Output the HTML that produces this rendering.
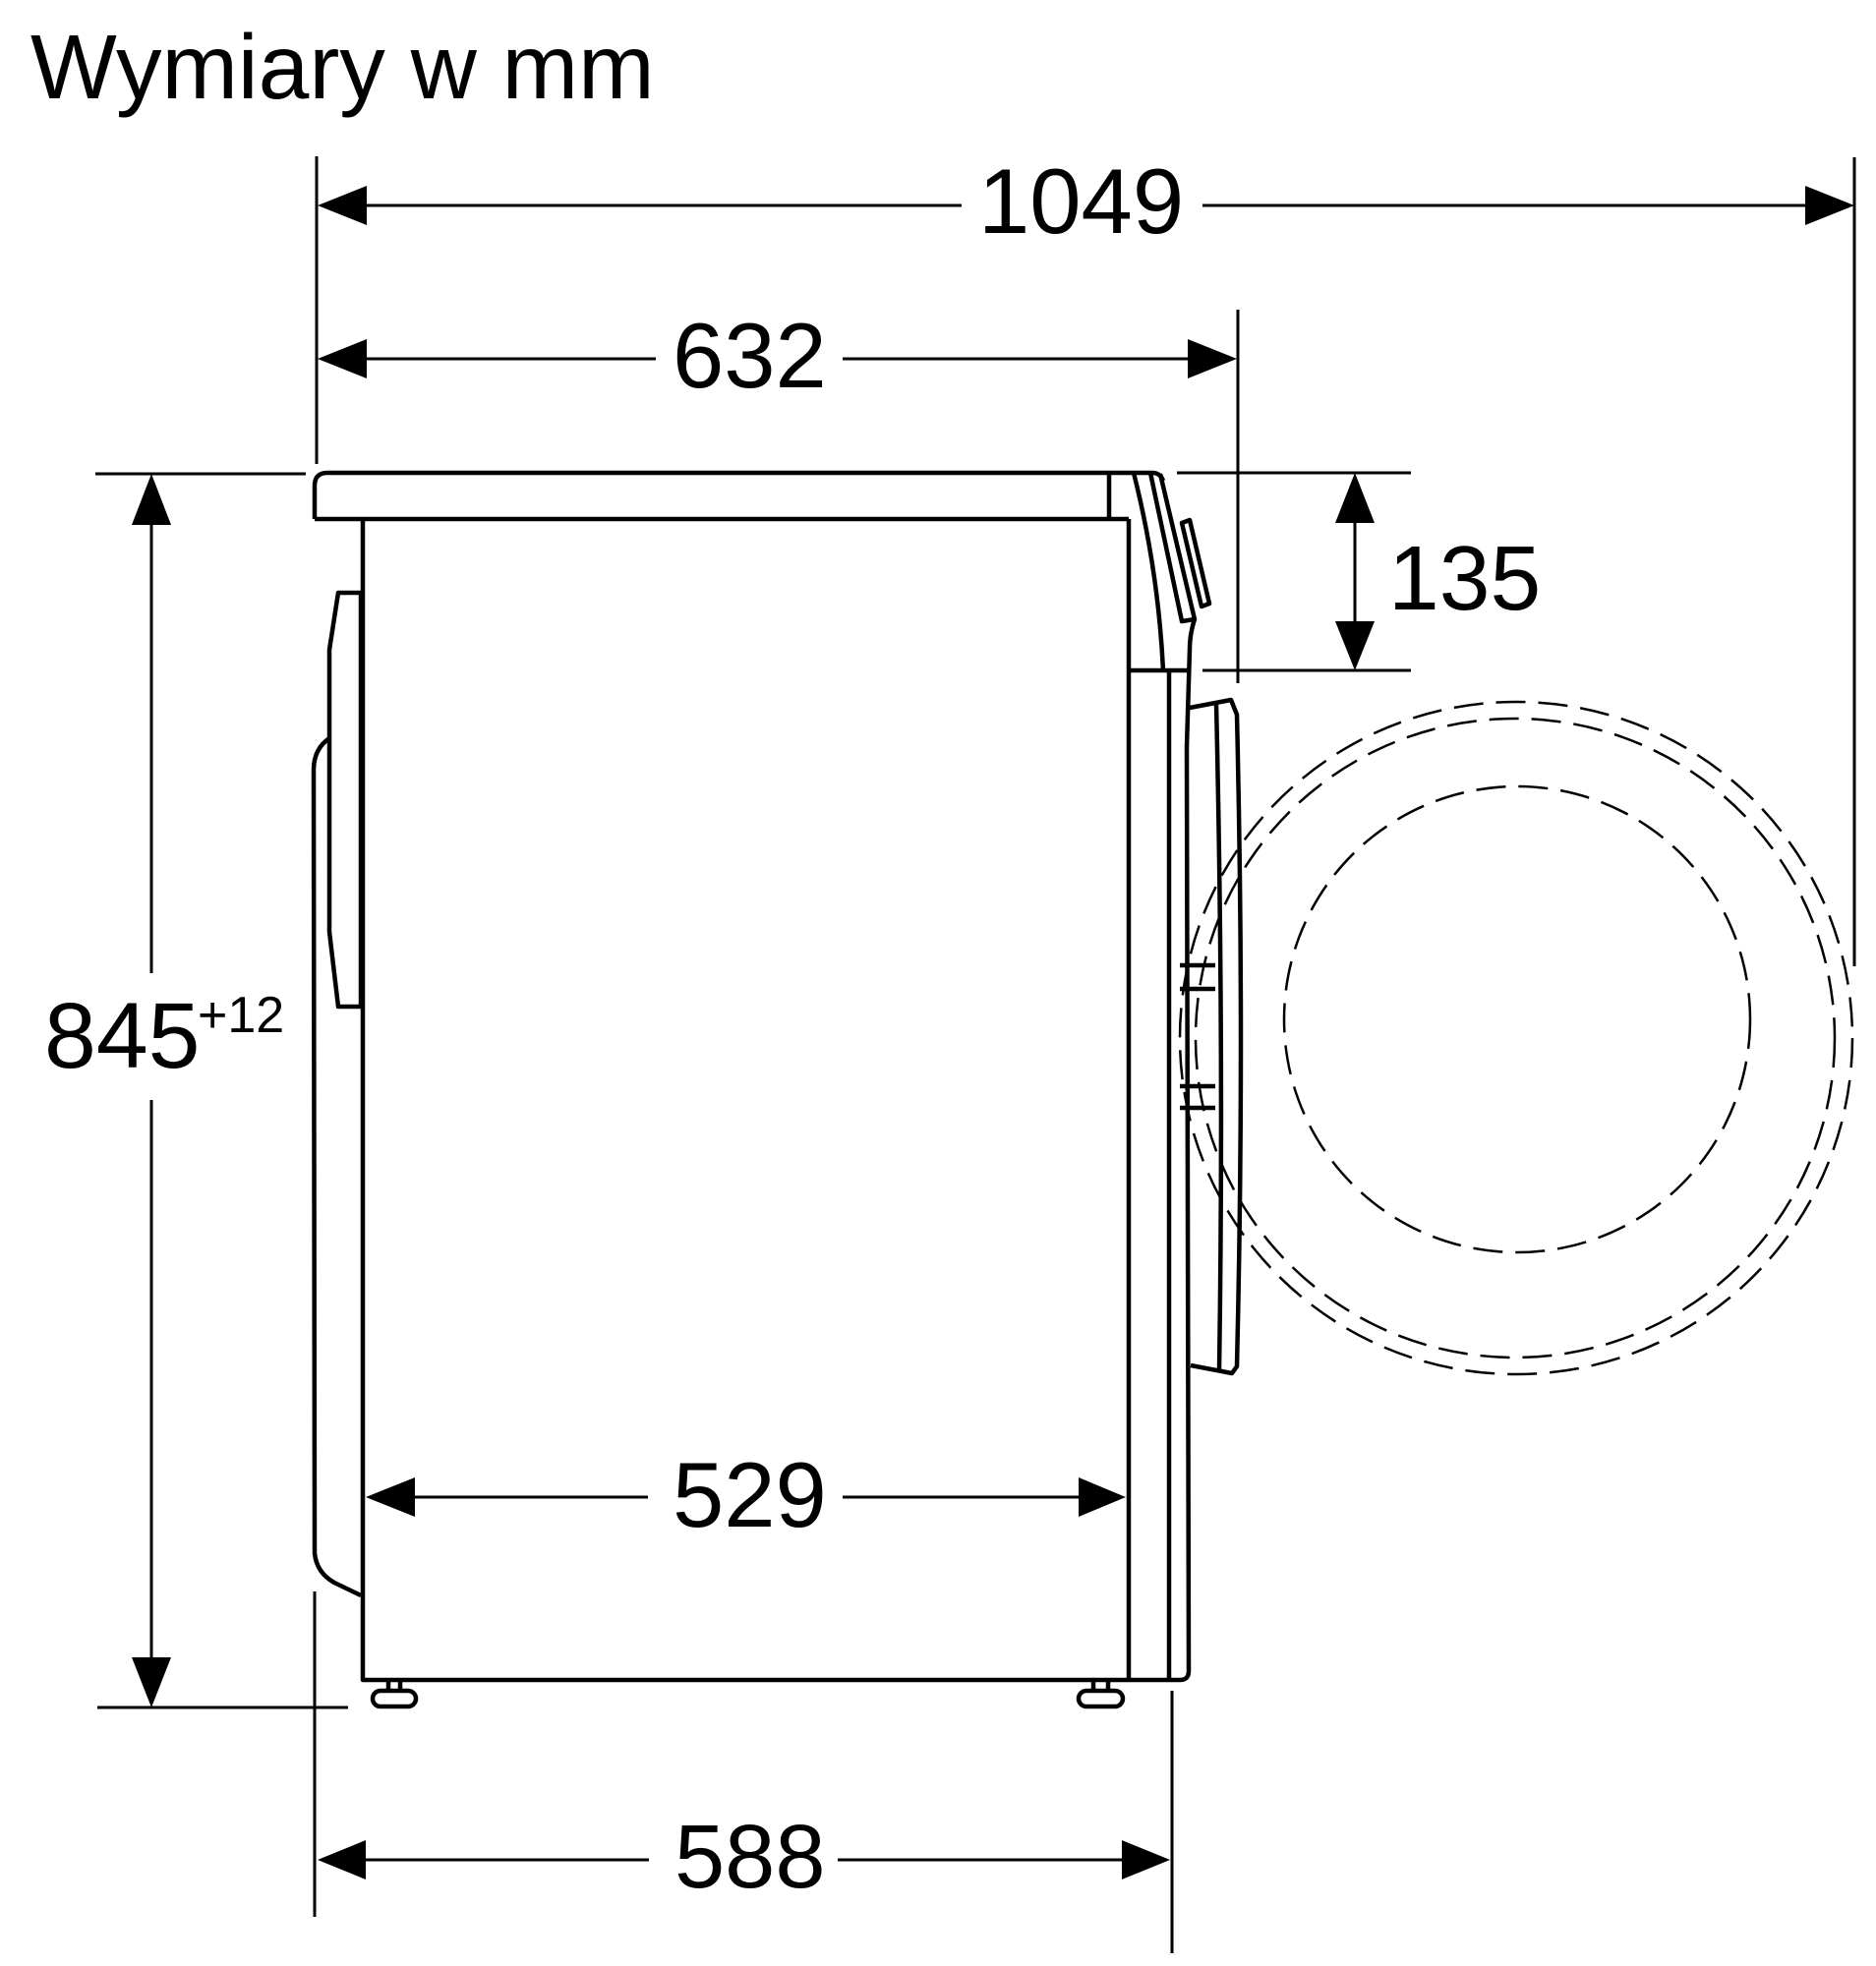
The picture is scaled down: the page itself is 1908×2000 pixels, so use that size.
<!DOCTYPE html>
<html><head><meta charset="utf-8"><style>
html,body{margin:0;padding:0;background:#fff;}
svg{display:block;}
text{font-family:"Liberation Sans",Arial,sans-serif;fill:#000;}
</style></head><body>
<svg width="1908" height="2000" viewBox="0 0 1908 2000" xmlns="http://www.w3.org/2000/svg">
<text x="31" y="100" font-size="93">Wymiary w mm</text>

<g stroke="#000" stroke-width="3" fill="none">
  <line x1="322" y1="159" x2="322" y2="472"/>
  <line x1="1886" y1="160" x2="1886" y2="983"/>
  <line x1="1259" y1="315" x2="1259" y2="695"/>
  <line x1="97" y1="482" x2="311" y2="482"/>
  <line x1="99" y1="1737" x2="354" y2="1737"/>
  <line x1="1197" y1="481" x2="1435" y2="481"/>
  <line x1="1223" y1="682" x2="1435" y2="682"/>
  <line x1="320" y1="1619" x2="320" y2="1950"/>
  <line x1="1192" y1="1720" x2="1192" y2="1987"/>
  <line x1="340" y1="209" x2="978" y2="209"/>
  <line x1="1223" y1="209" x2="1870" y2="209"/>
  <line x1="340" y1="365" x2="667" y2="365"/>
  <line x1="857" y1="365" x2="1240" y2="365"/>
  <line x1="1378" y1="520" x2="1378" y2="640"/>
  <line x1="154" y1="520" x2="154" y2="990"/>
  <line x1="154" y1="1119" x2="154" y2="1700"/>
  <line x1="390" y1="1523" x2="659" y2="1523"/>
  <line x1="857" y1="1523" x2="1130" y2="1523"/>
  <line x1="340" y1="1892" x2="660" y2="1892"/>
  <line x1="852" y1="1892" x2="1175" y2="1892"/>
</g>
<g fill="#000">
  <polygon points="323,209 373,189 373,229"/>
  <polygon points="1886,209 1836,189 1836,229"/>
  <polygon points="323,365 373,345 373,385"/>
  <polygon points="1258,365 1208,345 1208,385"/>
  <polygon points="1378,481 1358,532 1398,532"/>
  <polygon points="1378,682 1358,632 1398,632"/>
  <polygon points="154,482 134,534 174,534"/>
  <polygon points="154,1737 134,1686 174,1686"/>
  <polygon points="372,1523 422,1503 422,1543"/>
  <polygon points="1145,1523 1097,1503 1097,1543"/>
  <polygon points="323,1892 372,1872 372,1912"/>
  <polygon points="1190,1892 1141,1872 1141,1912"/>
</g>
<text x="995" y="237" font-size="94">1049</text>
<text x="684" y="394" font-size="94">632</text>
<text x="1412" y="620" font-size="93">135</text>
<text x="45" y="1086" font-size="95">845</text>
<text x="201" y="1050" font-size="52">+12</text>
<text x="684" y="1553" font-size="94">529</text>
<text x="686" y="1920" font-size="92">588</text>

<g stroke="#000" stroke-width="4.5" fill="none" stroke-linejoin="round">
  <path d="M320,528 L320,494 Q320,481 333,481 L1172,481 Q1180,481 1183,489"/>
  <line x1="320" y1="528" x2="1148" y2="528"/>
  <line x1="1128" y1="481" x2="1128" y2="528"/>
  <path d="M369,528 L369,1709 L1200,1709 Q1209,1709 1209,1700"/>
  <line x1="1148" y1="528" x2="1148" y2="1709"/>
  <line x1="1148" y1="682" x2="1208" y2="682"/>
  <line x1="1189" y1="682" x2="1189" y2="1709"/>
  <path d="M1153,481 Q1178,580 1183,682"/>
  <path d="M1170,481 L1202,632 L1215,630"/>
  <path d="M1180,482 L1215,630 Q1210,645 1210,660 L1207,760 L1209,1700"/>
  <polygon points="1202,532 1210,529 1230,614 1222,617"/>
  <path d="M1210,720 L1252,712 L1258,727 Q1266,1060 1258,1390 L1253,1397 L1211,1389"/>
  <path d="M1237,716 Q1245,1060 1240,1395"/>
  <line x1="1200" y1="982" x2="1236" y2="982"/>
  <line x1="1200" y1="1006" x2="1236" y2="1006"/>
  <line x1="1200" y1="1105" x2="1236" y2="1105"/>
  <line x1="1200" y1="1127" x2="1236" y2="1127"/>
  <polygon points="367,603 344,603 335,661 335,948 344,1024 367,1024"/>
  <path d="M335,751 Q319,762 319,783 L320,1580 Q322,1600 340,1610 L367,1623"/>
  <rect x="379" y="1720" width="44" height="16" rx="8"/>
  <line x1="395" y1="1711" x2="395" y2="1720"/>
  <line x1="407" y1="1711" x2="407" y2="1720"/>
  <rect x="1097" y="1720" width="45" height="16" rx="8"/>
  <line x1="1112" y1="1711" x2="1112" y2="1720"/>
  <line x1="1127" y1="1711" x2="1127" y2="1720"/>
</g>
<g stroke="#000" stroke-width="2.5" fill="none" stroke-dasharray="30 13">
  <circle cx="1542" cy="1056" r="342"/>
  <circle cx="1541" cy="1056" r="325"/>
  <circle cx="1543" cy="1037" r="237"/>
</g>
</svg>
</body></html>
